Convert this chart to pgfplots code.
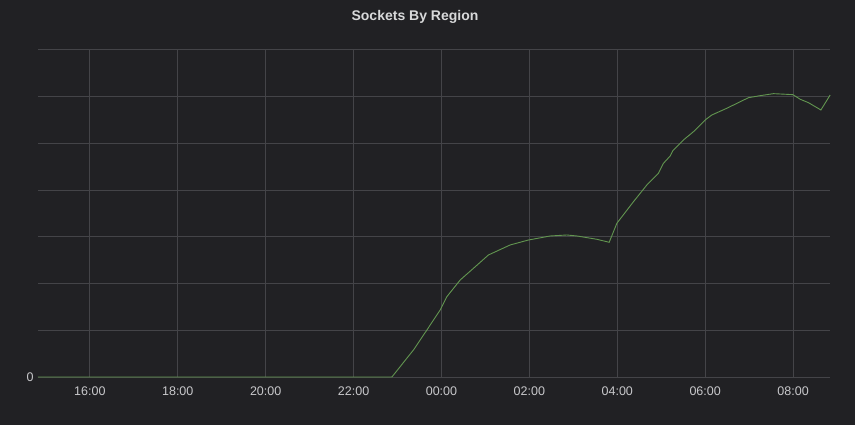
\documentclass[border=0pt]{standalone}
\usepackage{pgfplots}
\pgfplotsset{compat=1.18}
\usepackage{fontspec}
\setmainfont{Liberation Sans}
\definecolor{panelbg}{RGB}{33,33,36}
\definecolor{gridclr}{RGB}{68,68,72}
\definecolor{tickclr}{RGB}{200,200,203}
\definecolor{titleclr}{RGB}{216,217,218}
\definecolor{seriesgreen}{RGB}{98,150,80}
\begin{document}
\begin{tikzpicture}[x=1pt,y=1pt]
\fill[panelbg] (0,0) rectangle (855,425);
\node[text=titleclr,font=\fontsize{14}{16}\selectfont\bfseries] at (415,408) {Sockets By Region};
\begin{axis}[
    at={(38pt,48pt)}, anchor=south west,
    width=792pt, height=327.3pt, scale only axis,
    xmin=14.82, xmax=32.84,
    ymin=0, ymax=7,
    axis line style={draw=none},
    major tick length=0pt,
    grid=major,
    grid style={gridclr, line width=0.8pt},
    xtick={16,18,...,32},
    xticklabels={16:00,18:00,20:00,22:00,00:00,02:00,04:00,06:00,08:00},
    ytick={0,...,7},
    yticklabels={0},
    tick label style={text=tickclr, font=\fontsize{12.5}{14}\selectfont},
    /pgf/number format/assume math mode=true,
    xticklabel style={yshift=-6pt},
    yticklabel style={xshift=-1pt},
    clip=false,
]
\addplot[seriesgreen, line width=0.9pt] coordinates {
(14.82,0) (22.872,0) (23.363,0.578) (23.668,1.005) (23.970,1.433)
(24.123,1.718) (24.426,2.075) (24.728,2.325)
(25.069,2.610) (25.563,2.824) (25.980,2.930) (26.473,3.016)
(26.853,3.037) (27.081,3.016) (27.536,2.945) (27.816,2.881)
(27.991,3.288) (28.369,3.750) (28.673,4.107) (28.937,4.357)
(29.051,4.571) (29.204,4.727) (29.265,4.841) (29.506,5.070)
(29.734,5.247) (30.000,5.497) (30.152,5.604) (30.494,5.748)
(30.985,5.974) (31.252,6.017) (31.554,6.060) (31.995,6.039)
(32.162,5.940) (32.350,5.867) (32.633,5.711) (32.844,6.032)
};
\end{axis}
\end{tikzpicture}
\end{document}
